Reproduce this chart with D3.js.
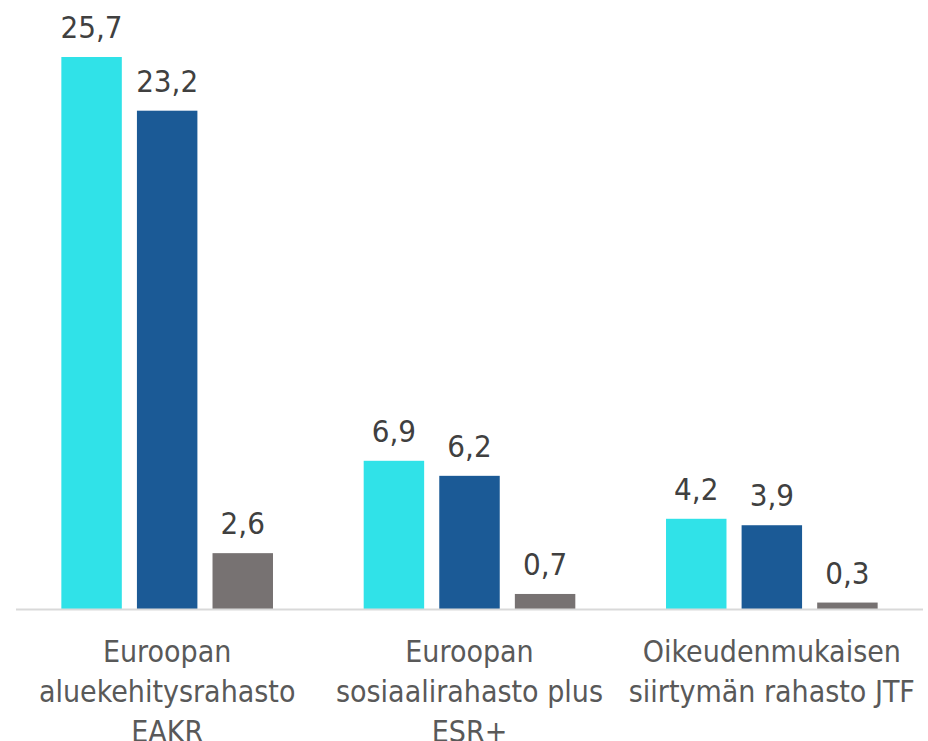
<!DOCTYPE html>
<html>
<head>
<meta charset="utf-8">
<script src="https://cdn.jsdelivr.net/npm/d3@7"></script>
<style>
  html, body { margin: 0; padding: 0; background: #fff; }
  svg { display: block; }
</style>
</head>
<body>
<svg id="chart" width="928" height="741"></svg>
<script>
const categories = [
  ["Euroopan", "aluekehitysrahasto", "EAKR"],
  ["Euroopan", "sosiaalirahasto plus", "ESR+"],
  ["Oikeudenmukaisen", "siirtymän rahasto JTF"]
];
const seriesNames = ["Sarja 1", "Sarja 2", "Sarja 3"];
const series1 = [25.7, 6.9, 4.2];
const series2 = [23.2, 6.2, 3.9];
const series3 = [2.6, 0.7, 0.3];
const seriesValues = [series1, series2, series3];
const colors = ["#30e2e8", "#1b5a96", "#777272"];

const svg = d3.select("#chart");
const font = "'DejaVu Sans Condensed', 'DejaVu Sans', sans-serif";
const baseY = 609;

const catIdx = categories.map((d, i) => i);
const x0 = d3.scaleBand().domain(catIdx).range([16, 923]).paddingInner(0).paddingOuter(0);
const x1 = d3.scaleBand().domain(d3.range(seriesNames.length)).range([0, x0.bandwidth()])
  .paddingInner(0.2).paddingOuter(0.6);
const y = d3.scaleLinear().domain([0, 25.7]).range([baseY, 57]);

const fmt = v => d3.format(".1f")(v).replace(".", ",");

const data = [];
catIdx.forEach(ci => {
  seriesValues.forEach((vals, si) => data.push({ ci, si, v: vals[ci] }));
});

svg.append("g").selectAll("rect").data(data).join("rect")
  .attr("x", d => x0(d.ci) + x1(d.si))
  .attr("width", x1.bandwidth())
  .attr("y", d => y(d.v))
  .attr("height", d => y(0) - y(d.v))
  .attr("fill", d => colors[d.si]);

// axis line
svg.append("line")
  .attr("x1", 16).attr("x2", 923)
  .attr("y1", baseY + 0.5).attr("y2", baseY + 0.5)
  .attr("stroke", "#d9d9d9").attr("stroke-width", 2);

// value labels
svg.append("g").selectAll("text").data(data).join("text")
  .attr("x", d => x0(d.ci) + x1(d.si) + x1.bandwidth() / 2)
  .attr("y", d => y(d.v) - 19)
  .attr("text-anchor", "middle")
  .attr("font-family", font)
  .attr("font-size", 31)
  .attr("fill", "#404040")
  .text(d => fmt(d.v));

// category labels
const cat = svg.append("g").selectAll("text").data(catIdx).join("text")
  .attr("x", ci => x0(ci) + x0.bandwidth() / 2)
  .attr("y", 662)
  .attr("text-anchor", "middle")
  .attr("font-family", font)
  .attr("font-size", 30)
  .attr("fill", "#595959");
cat.each(function(ci) {
  d3.select(this).selectAll("tspan").data(categories[ci]).join("tspan")
    .attr("x", x0(ci) + x0.bandwidth() / 2)
    .attr("dy", (d, i) => i === 0 ? 0 : 40)
    .text(d => d);
});
</script>
</body>
</html>
